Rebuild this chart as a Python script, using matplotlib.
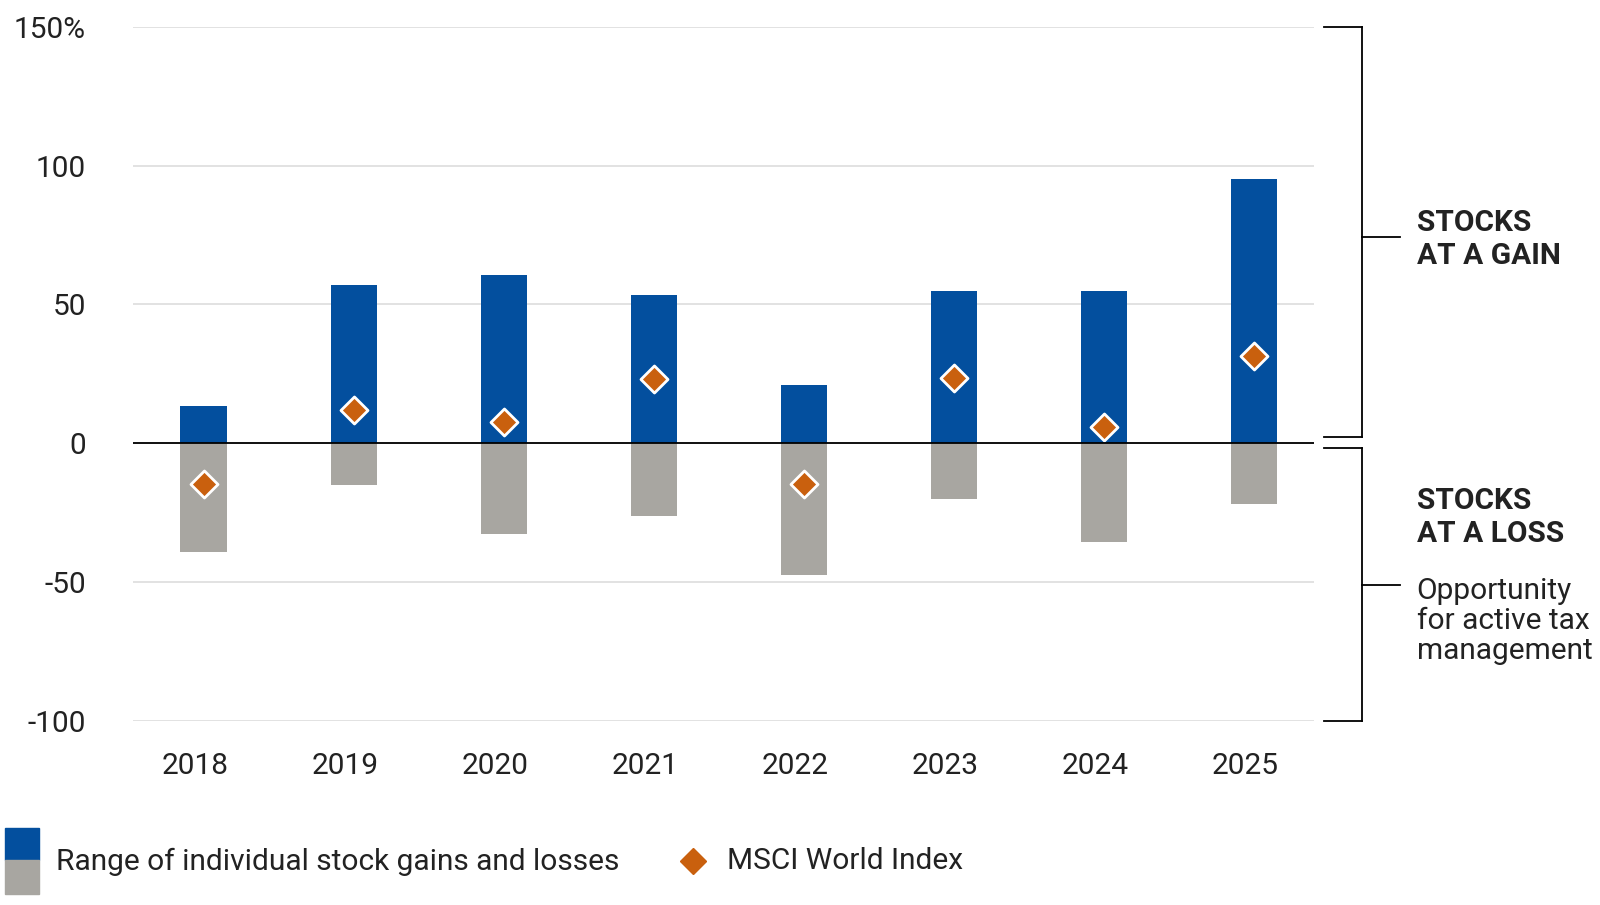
import matplotlib
matplotlib.use("Agg")
import matplotlib.pyplot as plt
from matplotlib.lines import Line2D
from matplotlib.patches import Rectangle

years = ["2018","2019","2020","2021","2022","2023","2024","2025"]
gains = [13.5, 57, 60.5, 53.5, 21, 55, 55, 95]
losses = [-39, -15, -32.5, -26, -47.5, -20, -35.5, -22]
msci = [-14.5, 12, 7.5, 23, -14.5, 23.5, 6, 31.5]

BLUE = "#034f9e"; GREY = "#a8a6a1"; ORANGE = "#c9600e"; TXT = "#222222"
plt.rcParams['font.family'] = ['Roboto', 'DejaVu Sans']

W, H = 1600, 905
S = 1600 / 1562  # reference measurements were taken on a scaled view
FS = 21.5
fig = plt.figure(figsize=(16, 9.05), dpi=100)

def fx(px): return px * S / W
def fy(py): return 1 - py * S / H

ax = fig.add_axes([fx(130), fy(704), fx(1283) - fx(130), fy(26) - fy(704)])
x = list(range(len(years)))
ax.bar(x, gains, width=0.31, color=BLUE, zorder=2)
ax.bar(x, losses, width=0.31, color=GREY, zorder=2)
ax.scatter(x, msci, marker='D', s=190, color=ORANGE, edgecolor='white', linewidth=2, zorder=3)
ax.axhline(0, color='black', lw=1.3, zorder=4)
ax.set_ylim(-100, 150)
ax.set_xlim(-0.47, 7.4)
ax.set_yticks([-100, -50, 0, 50, 100, 150])
ax.set_yticklabels(["-100", "-50", "0", "50", "100", "150%"])
ax.grid(axis='y', color='#dddddd', lw=1.2, zorder=0)
ax.set_xticks([i - 0.06 for i in x])
ax.set_xticklabels(years)
ax.tick_params(length=0, labelsize=FS, colors=TXT, pad=0)
ax.tick_params(axis='y', pad=34)
ax.tick_params(axis='x', pad=22)
for s in ax.spines.values():
    s.set_visible(False)

def line(x0, y0, x1, y1):
    fig.add_artist(Line2D([fx(x0), fx(x1)], [fy(y0), fy(y1)], color='black', lw=1.3))
line(1293, 26, 1330, 26); line(1330, 26, 1330, 427); line(1293, 427, 1330, 427); line(1330, 231, 1367, 231)
line(1293, 437, 1330, 437); line(1330, 437, 1330, 704); line(1293, 704, 1330, 704); line(1330, 571, 1367, 571)
fig.text(fx(1383), fy(234), "STOCKS\nAT A GAIN", fontsize=FS, fontweight='bold', color=TXT, va='center', linespacing=1.25)
fig.text(fx(1383), fy(505), "STOCKS\nAT A LOSS", fontsize=FS, fontweight='bold', color=TXT, va='center', linespacing=1.25)
fig.text(fx(1383), fy(606), "Opportunity\nfor active tax\nmanagement", fontsize=FS, color=TXT, va='center', linespacing=1.1)

fig.add_artist(Rectangle((fx(5), fy(840)), fx(38) - fx(5), fy(808) - fy(840), color=BLUE))
fig.add_artist(Rectangle((fx(5), fy(873)), fx(38) - fx(5), fy(840) - fy(873), color=GREY))
fig.text(fx(55), fy(841), "Range of individual stock gains and losses", fontsize=FS, color=TXT, va='center')
fig.add_artist(Line2D([fx(677)], [fy(841)], marker='D', markersize=13, color=ORANGE, linestyle=''))
fig.text(fx(710), fy(841), "MSCI World Index", fontsize=FS, color=TXT, va='center')

fig.savefig("out.png", dpi=100, facecolor='white')
